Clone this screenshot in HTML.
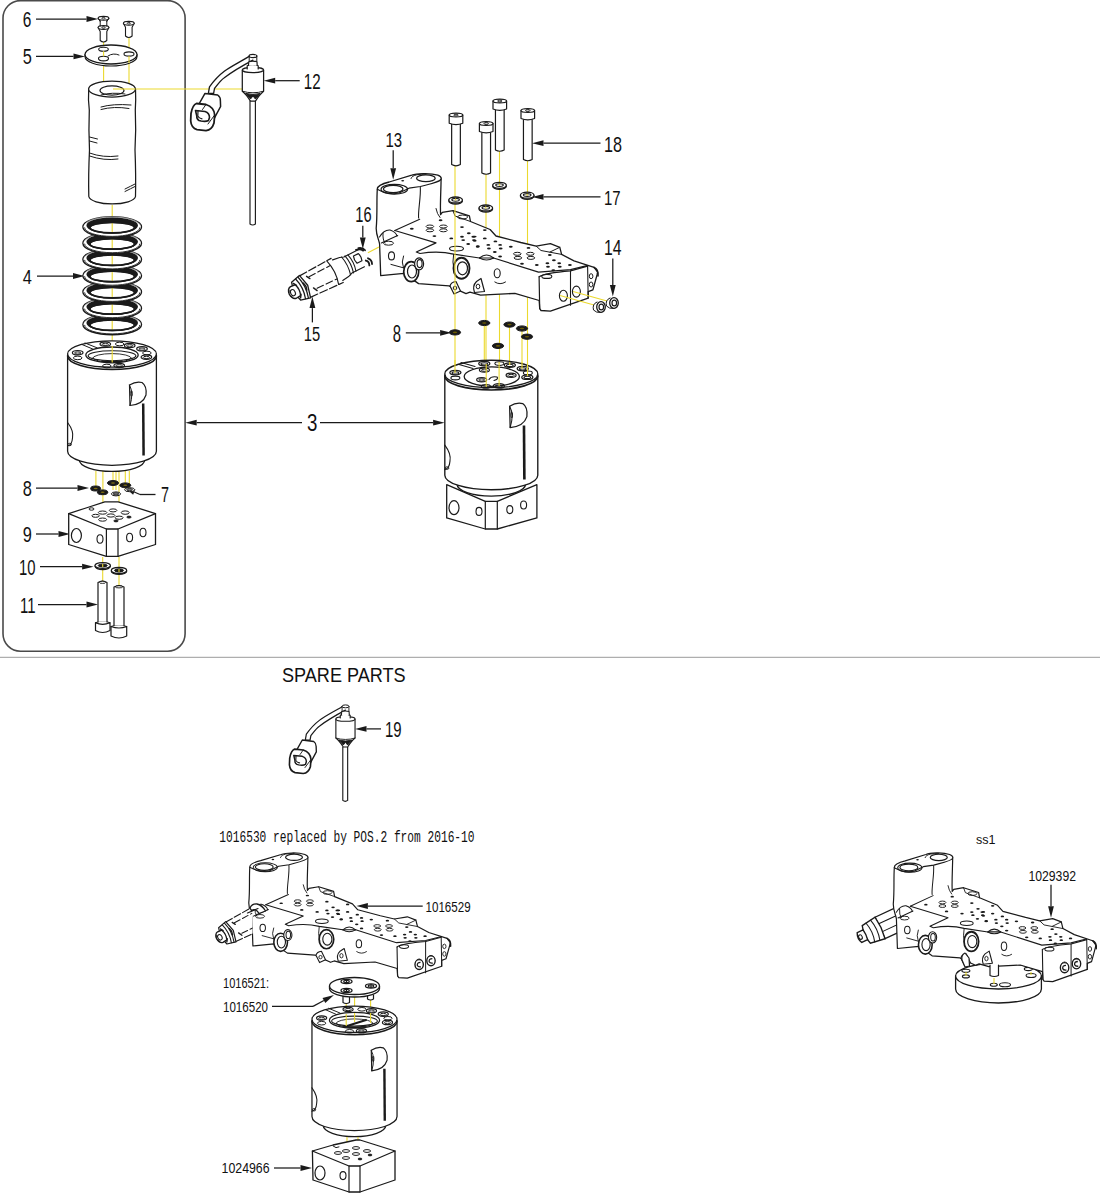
<!DOCTYPE html>
<html><head><meta charset="utf-8"><style>
html,body{margin:0;padding:0;background:#fff;}
body{width:1100px;height:1195px;overflow:hidden;}
svg{display:block;}
text{font-family:"Liberation Sans",sans-serif;fill:#111;}
</style></head><body>
<svg width="1100" height="1195" viewBox="0 0 1100 1195">
<rect x="3" y="0.6" width="182.1" height="650.6" rx="17.5" ry="17.5" fill="none" stroke="#4a4a4a" stroke-width="1.6"/>
<line x1="0" y1="657.3" x2="1100" y2="657.3" stroke="#9a9a9a" stroke-width="1"/>
<text class="n" x="22.7" y="27" font-size="21.43" textLength="8.60" lengthAdjust="spacingAndGlyphs">6</text>
<text class="n" x="22.7" y="64" font-size="22.86" textLength="9.10" lengthAdjust="spacingAndGlyphs">5</text>
<text class="n" x="303.8" y="88.5" font-size="21.43" textLength="16.80" lengthAdjust="spacingAndGlyphs">12</text>
<text class="n" x="385.4" y="146.7" font-size="20.29" textLength="16.60" lengthAdjust="spacingAndGlyphs">13</text>
<text class="n" x="604" y="151.5" font-size="22.14" textLength="18.00" lengthAdjust="spacingAndGlyphs">18</text>
<text class="n" x="604" y="204.7" font-size="20.29" textLength="16.60" lengthAdjust="spacingAndGlyphs">17</text>
<text class="n" x="355.3" y="222" font-size="21.43" textLength="16.30" lengthAdjust="spacingAndGlyphs">16</text>
<text class="n" x="604" y="255" font-size="21.43" textLength="17.50" lengthAdjust="spacingAndGlyphs">14</text>
<text class="n" x="22.7" y="283.6" font-size="20.86" textLength="9.10" lengthAdjust="spacingAndGlyphs">4</text>
<text class="n" x="303.8" y="340.6" font-size="19.71" textLength="16.40" lengthAdjust="spacingAndGlyphs">15</text>
<text class="n" x="392.7" y="341.6" font-size="23.71" textLength="8.30" lengthAdjust="spacingAndGlyphs">8</text>
<text class="n" x="307" y="431" font-size="23.71" textLength="10.40" lengthAdjust="spacingAndGlyphs">3</text>
<text class="n" x="22.7" y="495.5" font-size="22.14" textLength="9.10" lengthAdjust="spacingAndGlyphs">8</text>
<text class="n" x="161" y="502" font-size="21.43" textLength="8.00" lengthAdjust="spacingAndGlyphs">7</text>
<text class="n" x="22.7" y="542" font-size="22.86" textLength="9.10" lengthAdjust="spacingAndGlyphs">9</text>
<text class="n" x="19" y="574.5" font-size="22.14" textLength="16.50" lengthAdjust="spacingAndGlyphs">10</text>
<text class="n" x="20" y="613" font-size="22.86" textLength="15.50" lengthAdjust="spacingAndGlyphs">11</text>
<text class="n" x="282" y="682.2" font-size="20.57" textLength="123.70" lengthAdjust="spacingAndGlyphs">SPARE PARTS</text>
<text class="n" x="385" y="736.6" font-size="22.29" textLength="16.60" lengthAdjust="spacingAndGlyphs">19</text>
<text class="n" x="219.3" y="842.1" font-size="15.60" textLength="255.20" lengthAdjust="spacingAndGlyphs" style="font-family:'Liberation Mono'">1016530 replaced by POS.2 from 2016-10</text>
<text class="n" x="425.5" y="911.6" font-size="15.14" textLength="45.10" lengthAdjust="spacingAndGlyphs">1016529</text>
<text class="n" x="223" y="987.6" font-size="14.29" textLength="46.00" lengthAdjust="spacingAndGlyphs">1016521:</text>
<text class="n" x="223" y="1011.6" font-size="14.29" textLength="45.00" lengthAdjust="spacingAndGlyphs">1016520</text>
<text class="n" x="221.6" y="1173" font-size="14.29" textLength="48.00" lengthAdjust="spacingAndGlyphs">1024966</text>
<text class="n" x="976" y="843.9" font-size="13.00" textLength="19.50" lengthAdjust="spacingAndGlyphs">ss1</text>
<text class="n" x="1028.4" y="881.4" font-size="14.86" textLength="47.60" lengthAdjust="spacingAndGlyphs">1029392</text>
<line x1="36" y1="19" x2="86.50" y2="19.00" stroke="#1a1a1a" stroke-width="1.25"/>
<path d="M98.00,19.00 L86.50,21.90 L86.50,16.10Z" fill="#1a1a1a"/>
<line x1="36" y1="56.4" x2="73.50" y2="56.40" stroke="#1a1a1a" stroke-width="1.25"/>
<path d="M85.00,56.40 L73.50,59.30 L73.50,53.50Z" fill="#1a1a1a"/>
<line x1="299.7" y1="80.7" x2="275.20" y2="80.70" stroke="#1a1a1a" stroke-width="1.25"/>
<path d="M263.70,80.70 L275.20,77.80 L275.20,83.60Z" fill="#1a1a1a"/>
<line x1="393.2" y1="150.3" x2="393.20" y2="168.30" stroke="#1a1a1a" stroke-width="1.25"/>
<path d="M393.20,179.80 L390.30,168.30 L396.10,168.30Z" fill="#1a1a1a"/>
<line x1="600.5" y1="143.2" x2="543.50" y2="143.20" stroke="#1a1a1a" stroke-width="1.25"/>
<path d="M532.00,143.20 L543.50,140.30 L543.50,146.10Z" fill="#1a1a1a"/>
<line x1="600.5" y1="196.9" x2="543.50" y2="196.90" stroke="#1a1a1a" stroke-width="1.25"/>
<path d="M532.00,196.90 L543.50,194.00 L543.50,199.80Z" fill="#1a1a1a"/>
<line x1="362.8" y1="225.7" x2="362.80" y2="237.50" stroke="#1a1a1a" stroke-width="1.25"/>
<path d="M362.80,249.00 L359.90,237.50 L365.70,237.50Z" fill="#1a1a1a"/>
<line x1="612.8" y1="258.5" x2="612.80" y2="285.00" stroke="#1a1a1a" stroke-width="1.25"/>
<path d="M612.80,296.50 L609.90,285.00 L615.70,285.00Z" fill="#1a1a1a"/>
<line x1="37" y1="276" x2="73.00" y2="276.00" stroke="#1a1a1a" stroke-width="1.25"/>
<path d="M84.50,276.00 L73.00,278.90 L73.00,273.10Z" fill="#1a1a1a"/>
<line x1="312.4" y1="322.4" x2="312.40" y2="308.10" stroke="#1a1a1a" stroke-width="1.25"/>
<path d="M312.40,296.60 L315.30,308.10 L309.50,308.10Z" fill="#1a1a1a"/>
<line x1="405.8" y1="332.8" x2="440.10" y2="332.80" stroke="#1a1a1a" stroke-width="1.25"/>
<path d="M451.60,332.80 L440.10,335.70 L440.10,329.90Z" fill="#1a1a1a"/>
<line x1="302" y1="422.7" x2="196.70" y2="422.70" stroke="#1a1a1a" stroke-width="1.25"/>
<path d="M185.20,422.70 L196.70,419.80 L196.70,425.60Z" fill="#1a1a1a"/>
<line x1="320" y1="422.7" x2="433.10" y2="422.70" stroke="#1a1a1a" stroke-width="1.25"/>
<path d="M444.60,422.70 L433.10,425.60 L433.10,419.80Z" fill="#1a1a1a"/>
<line x1="36" y1="488" x2="77.50" y2="488.00" stroke="#1a1a1a" stroke-width="1.25"/>
<path d="M89.00,488.00 L77.50,490.90 L77.50,485.10Z" fill="#1a1a1a"/>
<line x1="155.5" y1="494.5" x2="140" y2="494.5" stroke="#1a1a1a" stroke-width="1.3"/>
<line x1="140" y1="494.5" x2="134.27" y2="492.05" stroke="#1a1a1a" stroke-width="1.25"/>
<path d="M126.00,488.50 L135.41,489.38 L133.13,494.71Z" fill="#1a1a1a"/>
<line x1="36" y1="534" x2="58.50" y2="534.00" stroke="#1a1a1a" stroke-width="1.25"/>
<path d="M70.00,534.00 L58.50,536.90 L58.50,531.10Z" fill="#1a1a1a"/>
<line x1="40" y1="566.7" x2="82.10" y2="566.70" stroke="#1a1a1a" stroke-width="1.25"/>
<path d="M93.60,566.70 L82.10,569.60 L82.10,563.80Z" fill="#1a1a1a"/>
<line x1="38" y1="604.5" x2="86.50" y2="604.50" stroke="#1a1a1a" stroke-width="1.25"/>
<path d="M98.00,604.50 L86.50,607.40 L86.50,601.60Z" fill="#1a1a1a"/>
<line x1="381" y1="728.9" x2="366.50" y2="728.90" stroke="#1a1a1a" stroke-width="1.25"/>
<path d="M355.00,728.90 L366.50,726.00 L366.50,731.80Z" fill="#1a1a1a"/>
<line x1="422.7" y1="906" x2="367.90" y2="906.00" stroke="#1a1a1a" stroke-width="1.25"/>
<path d="M356.40,906.00 L367.90,903.10 L367.90,908.90Z" fill="#1a1a1a"/>
<polyline points="272,1006.4 313,1006.4" fill="none" stroke="#1a1a1a" stroke-width="1.3"/>
<line x1="313" y1="1006.4" x2="323.89" y2="1000.49" stroke="#1a1a1a" stroke-width="1.25"/>
<path d="M334.00,995.00 L325.28,1003.04 L322.51,997.94Z" fill="#1a1a1a"/>
<line x1="274" y1="1168" x2="300.50" y2="1168.00" stroke="#1a1a1a" stroke-width="1.25"/>
<path d="M312.00,1168.00 L300.50,1170.90 L300.50,1165.10Z" fill="#1a1a1a"/>
<line x1="1051" y1="884.8" x2="1051.00" y2="906.20" stroke="#1a1a1a" stroke-width="1.25"/>
<path d="M1051.00,917.70 L1048.10,906.20 L1053.90,906.20Z" fill="#1a1a1a"/>
<line x1="103.6" y1="42" x2="103.6" y2="89" stroke="#EBD92E" stroke-width="1.1"/>
<line x1="129" y1="37" x2="129" y2="89" stroke="#EBD92E" stroke-width="1.1"/>
<line x1="113" y1="89" x2="242" y2="89" stroke="#EBD92E" stroke-width="1.1"/>
<line x1="112.2" y1="205" x2="112.2" y2="350" stroke="#EBD92E" stroke-width="1.1"/>
<line x1="95.9" y1="471" x2="95.9" y2="490" stroke="#EBD92E" stroke-width="1.1"/>
<line x1="102.9" y1="471" x2="102.9" y2="490" stroke="#EBD92E" stroke-width="1.1"/>
<line x1="113" y1="471" x2="113" y2="490" stroke="#EBD92E" stroke-width="1.1"/>
<line x1="116" y1="471" x2="116" y2="490" stroke="#EBD92E" stroke-width="1.1"/>
<line x1="119" y1="471" x2="119" y2="490" stroke="#EBD92E" stroke-width="1.1"/>
<line x1="125.3" y1="471" x2="125.3" y2="490" stroke="#EBD92E" stroke-width="1.1"/>
<line x1="129.3" y1="471" x2="129.3" y2="490" stroke="#EBD92E" stroke-width="1.1"/>
<line x1="102.9" y1="490" x2="102.9" y2="514" stroke="#EBD92E" stroke-width="1.1"/>
<line x1="119" y1="490" x2="119" y2="519" stroke="#EBD92E" stroke-width="1.1"/>
<line x1="102.7" y1="557" x2="102.7" y2="581" stroke="#EBD92E" stroke-width="1.1"/>
<line x1="119" y1="557" x2="119" y2="586" stroke="#EBD92E" stroke-width="1.1"/>
<path d="M98.1,27.5 L100.2,31.5 L100.2,40.5 Q103.5,43.5 106.8,40.5 L106.8,31.5 L108.9,27.5 Z" fill="#fff" stroke="#1a1a1a" stroke-width="1.1" stroke-linejoin="round" stroke-linecap="round" />
<ellipse cx="103.5" cy="27.5" rx="5.4" ry="1.9" fill="#fff" stroke="#1a1a1a" stroke-width="1.1" />
<ellipse cx="103.5" cy="27.5" rx="1.6" ry="0.8" fill="none" stroke="#1a1a1a" stroke-width="0.9" />
<path d="M100.2,20.5 L100.2,26 M106.8,20.5 L106.8,26" fill="none" stroke="#1a1a1a" stroke-width="1.0" stroke-linejoin="round" stroke-linecap="round" />
<ellipse cx="103.5" cy="18.3" rx="5.4" ry="1.9" fill="#fff" stroke="#1a1a1a" stroke-width="1.1" />
<ellipse cx="103.5" cy="18.3" rx="1.6" ry="0.8" fill="none" stroke="#1a1a1a" stroke-width="0.9" />
<path d="M98.1,18.3 L100.2,21.5 M108.9,18.3 L106.8,21.5" fill="none" stroke="#1a1a1a" stroke-width="1.0" stroke-linejoin="round" stroke-linecap="round" />
<path d="M123.4,23.3 L125.50000000000001,27.3 L125.50000000000001,36.0 Q128.8,39.0 132.10000000000002,36.0 L132.10000000000002,27.3 L134.20000000000002,23.3 Z" fill="#fff" stroke="#1a1a1a" stroke-width="1.1" stroke-linejoin="round" stroke-linecap="round" />
<ellipse cx="128.8" cy="23.3" rx="5.4" ry="1.9" fill="#fff" stroke="#1a1a1a" stroke-width="1.1" />
<ellipse cx="128.8" cy="23.3" rx="1.6" ry="0.8" fill="none" stroke="#1a1a1a" stroke-width="0.9" />
<path d="M85,54.5 L85,56.5 A26,9.5 0 0 0 137,56.5 L137,54.5" fill="#fff" stroke="#1a1a1a" stroke-width="1.2" stroke-linejoin="round" stroke-linecap="round" />
<ellipse cx="111" cy="54.5" rx="26" ry="9.5" fill="#fff" stroke="#1a1a1a" stroke-width="1.3" />
<ellipse cx="103.5" cy="49.2" rx="4.8" ry="2.0" fill="none" stroke="#1a1a1a" stroke-width="1.1" />
<ellipse cx="129" cy="54" rx="5" ry="2.1" fill="none" stroke="#1a1a1a" stroke-width="1.1" />
<ellipse cx="103.5" cy="58.6" rx="5" ry="2.3" fill="none" stroke="#1a1a1a" stroke-width="1.1" />
<path d="M108,56 Q113,52.5 119,55" fill="none" stroke="#1a1a1a" stroke-width="1.0" stroke-linejoin="round" stroke-linecap="round" />
<line x1="103.6" y1="51.2" x2="103.6" y2="56.3" stroke="#EBD92E" stroke-width="1.1"/>
<line x1="129" y1="56.1" x2="129" y2="63" stroke="#EBD92E" stroke-width="1.1"/>
<path d="M88.7,89 Q88,100 89.3,110 Q88.5,130 89.5,150 Q88.3,175 88.8,196.5 A23.4,8 0 0 0 135.5,196.5 Q136,175 135,150 Q136.2,130 135.3,110 Q136,100 135.5,89" fill="#fff" stroke="#1a1a1a" stroke-width="1.25" stroke-linejoin="round" stroke-linecap="round" />
<ellipse cx="112" cy="89" rx="23.4" ry="8" fill="#fff" stroke="#1a1a1a" stroke-width="1.25" />
<ellipse cx="112" cy="90.5" rx="12" ry="4.6" fill="none" stroke="#1a1a1a" stroke-width="1.2" />
<path d="M101,95 Q112,92 125,94" fill="none" stroke="#1a1a1a" stroke-width="1.0" stroke-linejoin="round" stroke-linecap="round" />
<line x1="113" y1="89" x2="135.5" y2="89" stroke="#EBD92E" stroke-width="1.1"/>
<path d="M101,107 Q113,103.5 131,105 M101,109.5 Q114,106 129,108.5" fill="none" stroke="#1a1a1a" stroke-width="1.0" stroke-linejoin="round" stroke-linecap="round" />
<path d="M89.5,137 L97.5,139 M89.5,141 L97,143" fill="none" stroke="#1a1a1a" stroke-width="1.0" stroke-linejoin="round" stroke-linecap="round" />
<path d="M89.5,153 Q103,158 118,156 M89.5,156 Q104,161 118,159" fill="none" stroke="#1a1a1a" stroke-width="1.0" stroke-linejoin="round" stroke-linecap="round" />
<path d="M125,189 Q131,186 135,184 M125,191.5 Q131,188.5 135,186.5" fill="none" stroke="#1a1a1a" stroke-width="1.0" stroke-linejoin="round" stroke-linecap="round" />
<path d="M82.9,324.5 a29.3,10.3 0 1 0 58.6,0 a29.3,10.3 0 1 0 -58.6,0 Z M89.9,325.1 a22.3,5.3 0 1 0 44.6,0 a22.3,5.3 0 1 0 -44.6,0 Z" fill="#fff" fill-rule="evenodd" stroke="#1a1a1a" stroke-width="1.4"/>
<path d="M86.4,323.0 a25.8,8.2 0 1 0 51.6,0 a25.8,8.2 0 1 0 -51.6,0 Z M89.9,325.1 a22.3,5.3 0 1 0 44.6,0 a22.3,5.3 0 1 0 -44.6,0 Z" fill="#1a1a1a" fill-rule="evenodd"/>
<ellipse cx="112.2" cy="325.1" rx="22.3" ry="5.3" fill="none" stroke="#1a1a1a" stroke-width="1.7" />
<ellipse cx="112.2" cy="323.9" rx="28.2" ry="9.4" fill="none" stroke="#fff" stroke-width="0.6" />
<path d="M84.6,325.3 A27.6,8.6 0 0 0 139.8,325.3" fill="none" stroke="#1a1a1a" stroke-width="0.9" stroke-linejoin="round" stroke-linecap="round" />
<path d="M82.9,308.3 a29.3,10.3 0 1 0 58.6,0 a29.3,10.3 0 1 0 -58.6,0 Z M89.9,308.90000000000003 a22.3,5.3 0 1 0 44.6,0 a22.3,5.3 0 1 0 -44.6,0 Z" fill="#fff" fill-rule="evenodd" stroke="#1a1a1a" stroke-width="1.4"/>
<path d="M86.4,306.8 a25.8,8.2 0 1 0 51.6,0 a25.8,8.2 0 1 0 -51.6,0 Z M89.9,308.90000000000003 a22.3,5.3 0 1 0 44.6,0 a22.3,5.3 0 1 0 -44.6,0 Z" fill="#1a1a1a" fill-rule="evenodd"/>
<ellipse cx="112.2" cy="308.90000000000003" rx="22.3" ry="5.3" fill="none" stroke="#1a1a1a" stroke-width="1.7" />
<ellipse cx="112.2" cy="307.7" rx="28.2" ry="9.4" fill="none" stroke="#fff" stroke-width="0.6" />
<path d="M84.6,309.1 A27.6,8.6 0 0 0 139.8,309.1" fill="none" stroke="#1a1a1a" stroke-width="0.9" stroke-linejoin="round" stroke-linecap="round" />
<path d="M82.9,292 a29.3,10.3 0 1 0 58.6,0 a29.3,10.3 0 1 0 -58.6,0 Z M89.9,292.6 a22.3,5.3 0 1 0 44.6,0 a22.3,5.3 0 1 0 -44.6,0 Z" fill="#fff" fill-rule="evenodd" stroke="#1a1a1a" stroke-width="1.4"/>
<path d="M86.4,290.5 a25.8,8.2 0 1 0 51.6,0 a25.8,8.2 0 1 0 -51.6,0 Z M89.9,292.6 a22.3,5.3 0 1 0 44.6,0 a22.3,5.3 0 1 0 -44.6,0 Z" fill="#1a1a1a" fill-rule="evenodd"/>
<ellipse cx="112.2" cy="292.6" rx="22.3" ry="5.3" fill="none" stroke="#1a1a1a" stroke-width="1.7" />
<ellipse cx="112.2" cy="291.4" rx="28.2" ry="9.4" fill="none" stroke="#fff" stroke-width="0.6" />
<path d="M84.6,292.8 A27.6,8.6 0 0 0 139.8,292.8" fill="none" stroke="#1a1a1a" stroke-width="0.9" stroke-linejoin="round" stroke-linecap="round" />
<path d="M82.9,275.8 a29.3,10.3 0 1 0 58.6,0 a29.3,10.3 0 1 0 -58.6,0 Z M89.9,276.40000000000003 a22.3,5.3 0 1 0 44.6,0 a22.3,5.3 0 1 0 -44.6,0 Z" fill="#fff" fill-rule="evenodd" stroke="#1a1a1a" stroke-width="1.4"/>
<path d="M86.4,274.3 a25.8,8.2 0 1 0 51.6,0 a25.8,8.2 0 1 0 -51.6,0 Z M89.9,276.40000000000003 a22.3,5.3 0 1 0 44.6,0 a22.3,5.3 0 1 0 -44.6,0 Z" fill="#1a1a1a" fill-rule="evenodd"/>
<ellipse cx="112.2" cy="276.40000000000003" rx="22.3" ry="5.3" fill="none" stroke="#1a1a1a" stroke-width="1.7" />
<ellipse cx="112.2" cy="275.2" rx="28.2" ry="9.4" fill="none" stroke="#fff" stroke-width="0.6" />
<path d="M84.6,276.6 A27.6,8.6 0 0 0 139.8,276.6" fill="none" stroke="#1a1a1a" stroke-width="0.9" stroke-linejoin="round" stroke-linecap="round" />
<path d="M82.9,259.5 a29.3,10.3 0 1 0 58.6,0 a29.3,10.3 0 1 0 -58.6,0 Z M89.9,260.1 a22.3,5.3 0 1 0 44.6,0 a22.3,5.3 0 1 0 -44.6,0 Z" fill="#fff" fill-rule="evenodd" stroke="#1a1a1a" stroke-width="1.4"/>
<path d="M86.4,258.0 a25.8,8.2 0 1 0 51.6,0 a25.8,8.2 0 1 0 -51.6,0 Z M89.9,260.1 a22.3,5.3 0 1 0 44.6,0 a22.3,5.3 0 1 0 -44.6,0 Z" fill="#1a1a1a" fill-rule="evenodd"/>
<ellipse cx="112.2" cy="260.1" rx="22.3" ry="5.3" fill="none" stroke="#1a1a1a" stroke-width="1.7" />
<ellipse cx="112.2" cy="258.9" rx="28.2" ry="9.4" fill="none" stroke="#fff" stroke-width="0.6" />
<path d="M84.6,260.3 A27.6,8.6 0 0 0 139.8,260.3" fill="none" stroke="#1a1a1a" stroke-width="0.9" stroke-linejoin="round" stroke-linecap="round" />
<path d="M82.9,243.3 a29.3,10.3 0 1 0 58.6,0 a29.3,10.3 0 1 0 -58.6,0 Z M89.9,243.9 a22.3,5.3 0 1 0 44.6,0 a22.3,5.3 0 1 0 -44.6,0 Z" fill="#fff" fill-rule="evenodd" stroke="#1a1a1a" stroke-width="1.4"/>
<path d="M86.4,241.8 a25.8,8.2 0 1 0 51.6,0 a25.8,8.2 0 1 0 -51.6,0 Z M89.9,243.9 a22.3,5.3 0 1 0 44.6,0 a22.3,5.3 0 1 0 -44.6,0 Z" fill="#1a1a1a" fill-rule="evenodd"/>
<ellipse cx="112.2" cy="243.9" rx="22.3" ry="5.3" fill="none" stroke="#1a1a1a" stroke-width="1.7" />
<ellipse cx="112.2" cy="242.70000000000002" rx="28.2" ry="9.4" fill="none" stroke="#fff" stroke-width="0.6" />
<path d="M84.6,244.10000000000002 A27.6,8.6 0 0 0 139.8,244.10000000000002" fill="none" stroke="#1a1a1a" stroke-width="0.9" stroke-linejoin="round" stroke-linecap="round" />
<path d="M82.9,227 a29.3,10.3 0 1 0 58.6,0 a29.3,10.3 0 1 0 -58.6,0 Z M89.9,227.6 a22.3,5.3 0 1 0 44.6,0 a22.3,5.3 0 1 0 -44.6,0 Z" fill="#fff" fill-rule="evenodd" stroke="#1a1a1a" stroke-width="1.4"/>
<path d="M86.4,225.5 a25.8,8.2 0 1 0 51.6,0 a25.8,8.2 0 1 0 -51.6,0 Z M89.9,227.6 a22.3,5.3 0 1 0 44.6,0 a22.3,5.3 0 1 0 -44.6,0 Z" fill="#1a1a1a" fill-rule="evenodd"/>
<ellipse cx="112.2" cy="227.6" rx="22.3" ry="5.3" fill="none" stroke="#1a1a1a" stroke-width="1.7" />
<ellipse cx="112.2" cy="226.4" rx="28.2" ry="9.4" fill="none" stroke="#fff" stroke-width="0.6" />
<path d="M84.6,227.8 A27.6,8.6 0 0 0 139.8,227.8" fill="none" stroke="#1a1a1a" stroke-width="0.9" stroke-linejoin="round" stroke-linecap="round" />
<defs><g id="hbody"><path d="M-32.7,105 A32.7,11.4 0 0 0 32.7,105 L32.7,100 L-32.7,100 Z" fill="#fff" stroke="#1a1a1a" stroke-width="1.3" stroke-linejoin="round" stroke-linecap="round"/>
<path d="M-44.4,0 L-44.4,96.3 A44.4,14 0 0 0 44.4,96.3 L44.4,0 Z" fill="#fff" stroke="#1a1a1a" stroke-width="1.3" stroke-linejoin="round" stroke-linecap="round"/>
<path d="M-44.4,1 A44.4,13.4 0 0 0 44.4,1" fill="none" stroke="#1a1a1a" stroke-width="1.6" stroke-linejoin="round" stroke-linecap="round"/>
<ellipse cx="0" cy="-1" rx="44.4" ry="13.2" fill="#fff" stroke="#1a1a1a" stroke-width="1.3"/>
<path d="M17.5,30 Q24,26 30,27.5 Q35,31 34,40 Q31,49.5 18,50.5 Z" fill="#fff" stroke="#1a1a1a" stroke-width="1.2" stroke-linejoin="round" stroke-linecap="round"/>
<path d="M17.5,30 Q22,38 18,50.5" fill="none" stroke="#1a1a1a" stroke-width="1.0" stroke-linejoin="round" stroke-linecap="round"/>
<ellipse cx="19.5" cy="38.5" rx="0.8" ry="2.8" fill="none" stroke="#1a1a1a" stroke-width="0.9"/>
<path d="M31.2,48.5 L31.6,100.5" stroke="#1a1a1a" stroke-width="2.5" fill="none"/>
<path d="M-44.4,67.5 Q-38,76 -39.5,83 Q-40,90 -44.4,91" fill="none" stroke="#1a1a1a" stroke-width="1.1" stroke-linejoin="round" stroke-linecap="round"/>
<ellipse cx="-42.3" cy="89.5" rx="1.8" ry="1.2" fill="none" stroke="#1a1a1a" stroke-width="0.9"/></g></defs>
<defs><g id="hrim"><ellipse cx="-34.3" cy="-2.3" rx="5.3" ry="2.2" fill="none" stroke="#1a1a1a" stroke-width="1.2"/>
<ellipse cx="-34.3" cy="-1.9999999999999998" rx="3.2" ry="1.1" fill="none" stroke="#1a1a1a" stroke-width="1.0"/>
<ellipse cx="-34.3" cy="2.9" rx="4.3" ry="1.8" fill="none" stroke="#1a1a1a" stroke-width="1.0"/>
<ellipse cx="-6.7" cy="-11" rx="5.3" ry="2.2" fill="none" stroke="#1a1a1a" stroke-width="1.2"/>
<ellipse cx="-6.7" cy="-10.7" rx="3.2" ry="1.1" fill="none" stroke="#1a1a1a" stroke-width="1.0"/>
<ellipse cx="7.7" cy="-11" rx="4.3" ry="1.8" fill="none" stroke="#1a1a1a" stroke-width="1.0"/>
<ellipse cx="17.7" cy="-9.5" rx="5.3" ry="2.2" fill="none" stroke="#1a1a1a" stroke-width="1.2"/>
<ellipse cx="17.7" cy="-9.2" rx="3.2" ry="1.1" fill="none" stroke="#1a1a1a" stroke-width="1.0"/>
<ellipse cx="30" cy="-6.2" rx="5.3" ry="2.2" fill="none" stroke="#1a1a1a" stroke-width="1.2"/>
<ellipse cx="30" cy="-5.9" rx="3.2" ry="1.1" fill="none" stroke="#1a1a1a" stroke-width="1.0"/>
<ellipse cx="34.9" cy="-2" rx="4.3" ry="1.8" fill="none" stroke="#1a1a1a" stroke-width="1.0"/>
<ellipse cx="34.4" cy="2.1" rx="5.3" ry="2.2" fill="none" stroke="#1a1a1a" stroke-width="1.2"/>
<ellipse cx="34.4" cy="2.4" rx="3.2" ry="1.1" fill="none" stroke="#1a1a1a" stroke-width="1.0"/>
<ellipse cx="-5.2" cy="11" rx="4.3" ry="1.8" fill="none" stroke="#1a1a1a" stroke-width="1.0"/>
<ellipse cx="7.2" cy="10.5" rx="5.3" ry="2.2" fill="none" stroke="#1a1a1a" stroke-width="1.2"/>
<ellipse cx="7.2" cy="10.8" rx="3.2" ry="1.1" fill="none" stroke="#1a1a1a" stroke-width="1.0"/></g></defs>
<defs><g id="htopA"><ellipse cx="0" cy="-0.1" rx="26.2" ry="7.9" fill="none" stroke="#1a1a1a" stroke-width="1.3"/>
<ellipse cx="0" cy="0.8" rx="23.9" ry="5.0" fill="none" stroke="#1a1a1a" stroke-width="1.1"/>
<path d="M-19,3 A19,4.2 0 0 0 19,3" fill="none" stroke="#1a1a1a" stroke-width="1.0" stroke-linejoin="round" stroke-linecap="round"/>
<path d="M-19.5,3.2 A19.5,4.6 0 0 1 19.5,3.2" fill="none" stroke="#1a1a1a" stroke-width="0.9" stroke-linejoin="round" stroke-linecap="round"/>
<path d="M-10,6 A12,2 0 0 0 10,6" fill="none" stroke="#1a1a1a" stroke-width="1.6" stroke-linejoin="round" stroke-linecap="round"/>
<path d="M-30,-10.5 L-18.6,-5.7 M-27,-12 L-15,-7.2" fill="none" stroke="#1a1a1a" stroke-width="1.0" stroke-linejoin="round" stroke-linecap="round"/></g></defs>
<g transform="translate(112,355)"><use href="#hbody"/><use href="#hrim"/><use href="#htopA"/></g>
<line x1="112.2" y1="346" x2="112.2" y2="362.5" stroke="#EBD92E" stroke-width="1.1"/>
<ellipse cx="95.6" cy="488.5" rx="5" ry="2.5" fill="#1a1a1a" stroke="#1a1a1a" stroke-width="1.0" />
<ellipse cx="95.6" cy="488.5" rx="2.0" ry="0.7" fill="#7a6a10" stroke="none" stroke-width="0" />
<ellipse cx="102.6" cy="492.3" rx="5.2" ry="2.4" fill="#1a1a1a" stroke="#1a1a1a" stroke-width="1.0" />
<ellipse cx="102.6" cy="492.3" rx="2.0" ry="0.7" fill="#7a6a10" stroke="none" stroke-width="0" />
<ellipse cx="113" cy="483" rx="5.5" ry="2.5" fill="#1a1a1a" stroke="#1a1a1a" stroke-width="1.0" />
<ellipse cx="113" cy="483" rx="2.0" ry="0.7" fill="#7a6a10" stroke="none" stroke-width="0" />
<ellipse cx="125.3" cy="485.3" rx="5.5" ry="2.4" fill="#1a1a1a" stroke="#1a1a1a" stroke-width="1.0" />
<ellipse cx="125.3" cy="485.3" rx="2.0" ry="0.7" fill="#7a6a10" stroke="none" stroke-width="0" />
<ellipse cx="116" cy="493.9" rx="4.6" ry="2" fill="#fff" stroke="#1a1a1a" stroke-width="1.0" />
<ellipse cx="116" cy="493.9" rx="2.8" ry="1.1" fill="#888" stroke="#1a1a1a" stroke-width="0.9" />
<ellipse cx="129.6" cy="489.7" rx="5" ry="2" fill="#fff" stroke="#1a1a1a" stroke-width="1.0" />
<ellipse cx="129.6" cy="489.7" rx="2.8" ry="1.1" fill="#888" stroke="#1a1a1a" stroke-width="0.9" />
<defs><g id="blk"><path d="M68.7,513.6 L86,508 L104.8,501.8 L118.2,501.8 L155.5,513.6 L155.5,544.5 L118,556.4 L106.4,556.4 L68.7,544.5 Z" fill="#fff" stroke="#1a1a1a" stroke-width="1.3" stroke-linejoin="round" stroke-linecap="round"/>
<path d="M68.7,513.6 L106.4,529 L118,529 L155.5,513.6" fill="none" stroke="#1a1a1a" stroke-width="1.3" stroke-linejoin="round" stroke-linecap="round"/>
<path d="M106.4,529 L106.4,556.4 M118,529 L118,556.4" fill="none" stroke="#1a1a1a" stroke-width="1.2" stroke-linejoin="round" stroke-linecap="round"/>
<ellipse cx="76.4" cy="535.5" rx="5" ry="7" fill="none" stroke="#1a1a1a" stroke-width="1.2"/>
<ellipse cx="100" cy="539" rx="3" ry="4.2" fill="none" stroke="#1a1a1a" stroke-width="1.1"/>
<ellipse cx="129.6" cy="537.5" rx="3" ry="4.2" fill="none" stroke="#1a1a1a" stroke-width="1.1"/>
<ellipse cx="143" cy="532.5" rx="3" ry="4.2" fill="none" stroke="#1a1a1a" stroke-width="1.1"/></g></defs>
<use href="#blk"/>
<ellipse cx="91.5" cy="509" rx="2.5" ry="1.2" fill="none" stroke="#1a1a1a" stroke-width="1.0" />
<ellipse cx="113.1" cy="510.4" rx="3.8" ry="1.5" fill="none" stroke="#1a1a1a" stroke-width="1.0" />
<ellipse cx="125.2" cy="512.6" rx="4" ry="1.7" fill="none" stroke="#1a1a1a" stroke-width="1.0" />
<ellipse cx="102.6" cy="512.6" rx="4.3" ry="1.6" fill="none" stroke="#1a1a1a" stroke-width="1.0" />
<ellipse cx="95.6" cy="515.8" rx="3.7" ry="1.5" fill="none" stroke="#1a1a1a" stroke-width="1.0" />
<ellipse cx="110.9" cy="515.5" rx="4" ry="1.6" fill="none" stroke="#1a1a1a" stroke-width="1.0" />
<ellipse cx="119.1" cy="517.7" rx="4" ry="1.6" fill="none" stroke="#1a1a1a" stroke-width="1.0" />
<ellipse cx="102.6" cy="519.6" rx="4" ry="1.6" fill="none" stroke="#1a1a1a" stroke-width="1.0" />
<ellipse cx="129" cy="517.1" rx="2.2" ry="1" fill="#1a1a1a" stroke="#1a1a1a" stroke-width="0.8" />
<ellipse cx="116" cy="520.9" rx="2.2" ry="1" fill="#1a1a1a" stroke="#1a1a1a" stroke-width="0.8" />
<ellipse cx="102.7" cy="566.3" rx="7.7" ry="3.3" fill="#fff" stroke="#1a1a1a" stroke-width="1.2" />
<ellipse cx="102.7" cy="565.5" rx="7.7" ry="3.0" fill="#fff" stroke="#1a1a1a" stroke-width="1.2" />
<ellipse cx="102.7" cy="565.5" rx="4.5" ry="1.6" fill="#1a1a1a" stroke="#1a1a1a" stroke-width="1.0" />
<line x1="102.7" y1="564.0" x2="102.7" y2="567.0" stroke="#EBD92E" stroke-width="1.1"/>
<ellipse cx="119" cy="571.1999999999999" rx="7.7" ry="3.3" fill="#fff" stroke="#1a1a1a" stroke-width="1.2" />
<ellipse cx="119" cy="570.4" rx="7.7" ry="3.0" fill="#fff" stroke="#1a1a1a" stroke-width="1.2" />
<ellipse cx="119" cy="570.4" rx="4.5" ry="1.6" fill="#1a1a1a" stroke="#1a1a1a" stroke-width="1.0" />
<line x1="119" y1="568.9" x2="119" y2="571.9" stroke="#EBD92E" stroke-width="1.1"/>
<path d="M95.5,622.8 L95.5,630.5 Q102.5,634.5 110,630.5 L110,622.8 Q102.5,625.8 95.5,622.8 Z" fill="#fff" stroke="#1a1a1a" stroke-width="1.2" stroke-linejoin="round" stroke-linecap="round" />
<path d="M95.5,622.8 Q102.5,619.8 110,622.8" fill="none" stroke="#1a1a1a" stroke-width="1.1" stroke-linejoin="round" stroke-linecap="round" />
<path d="M98,621.8 L98,582.5 Q102.5,579.5 107,582.5 L107,621.8" fill="#fff" stroke="#1a1a1a" stroke-width="1.2" stroke-linejoin="round" stroke-linecap="round" />
<ellipse cx="102.5" cy="582.3" rx="3.3" ry="1.1" fill="none" stroke="#1a1a1a" stroke-width="0.9" />
<path d="M111,626.5 L111,636 Q119.0,640 126.7,636 L126.7,626.5 Q119.0,629.5 111,626.5 Z" fill="#fff" stroke="#1a1a1a" stroke-width="1.2" stroke-linejoin="round" stroke-linecap="round" />
<path d="M111,626.5 Q119.0,623.5 126.7,626.5" fill="none" stroke="#1a1a1a" stroke-width="1.1" stroke-linejoin="round" stroke-linecap="round" />
<path d="M114,625.5 L114,587.0 Q119.0,584.0 124,587.0 L124,625.5" fill="#fff" stroke="#1a1a1a" stroke-width="1.2" stroke-linejoin="round" stroke-linecap="round" />
<ellipse cx="119.0" cy="586.8" rx="3.8" ry="1.1" fill="none" stroke="#1a1a1a" stroke-width="0.9" />
<defs><g id="sens"><path d="M249.6,56.1 C240,62 230,67 224.3,71.3 C218,76 213,82 209.5,86.8 L208.3,93.5 L213.6,93.5 L214.5,88.5 C218,84 221,80 224.3,77.8 C232,72 242,66 252.9,60.2" fill="#fff" stroke="#1a1a1a" stroke-width="1.35" stroke-linejoin="round" stroke-linecap="round"/>
<path d="M205,93.4 L217.7,95 Q220.6,97 220.4,101 L220.6,106.5 L214.5,117.9 L209.5,128.6 L196,122 L199,104 Z" fill="#fff" stroke="#1a1a1a" stroke-width="1.5" stroke-linejoin="round" stroke-linecap="round"/>
<path d="M196.5,103.5 L206,104.5 Q214,107 214.7,115 L214,123 Q212,129.8 206,130.6 L197,129.6 Q191.3,128 190.7,121 L191,113.5 Q192.5,105 196.5,103.5 Z" fill="#fff" stroke="#1a1a1a" stroke-width="1.8" stroke-linejoin="round" stroke-linecap="round"/>
<path d="M195.5,110.5 L205,111.5 Q209.5,113 209.5,117.5 L208.5,120.5 Q206,122 201,121 L199,120.5 Q196.5,119 196.8,116 Z" fill="none" stroke="#1a1a1a" stroke-width="1.6" stroke-linejoin="round" stroke-linecap="round"/>
<path d="M198,111 L197.8,116 Q199,118.5 202,118.8" fill="none" stroke="#1a1a1a" stroke-width="1.2" stroke-linejoin="round" stroke-linecap="round"/>
<path d="M206,104.5 L202.5,109.5 M214.7,115 L208,124" fill="none" stroke="#1a1a1a" stroke-width="1.0" stroke-linejoin="round" stroke-linecap="round"/>
<path d="M242.3,70 L242.3,91.2 Q246,94 250.5,101.1 L255.4,101.1 Q260,94 263.6,91.2 L263.6,70 Z" fill="#fff" stroke="#1a1a1a" stroke-width="1.25" stroke-linejoin="round" stroke-linecap="round"/>
<ellipse cx="252.95" cy="70" rx="10.65" ry="2.6" fill="#fff" stroke="#1a1a1a" stroke-width="1.2"/>
<path d="M242.3,91.2 Q253,94.5 263.6,91.2" fill="none" stroke="#1a1a1a" stroke-width="1.0" stroke-linejoin="round" stroke-linecap="round"/>
<path d="M246,93.5 L250.5,99 L253,96 L255.4,99 L260,93.5 Q253,95.5 246,93.5 Z" fill="#1a1a1a" stroke="#1a1a1a" stroke-width="1.0" stroke-linejoin="round" stroke-linecap="round"/>
<path d="M247.2,69 L247.2,65.8 Q252.7,63.5 258.2,65.8 L258.2,69" fill="#fff" stroke="#1a1a1a" stroke-width="1.2" stroke-linejoin="round" stroke-linecap="round"/>
<path d="M248.4,65.5 L248.8,61.8 Q252.7,60.5 257,61.8 L257.2,65.5" fill="#fff" stroke="#1a1a1a" stroke-width="1.2" stroke-linejoin="round" stroke-linecap="round"/>
<ellipse cx="253" cy="56" rx="3.9" ry="1.6" fill="#fff" stroke="#1a1a1a" stroke-width="1.1"/>
<path d="M249.2,56 L249.2,61 M256.8,56 L256.8,61" fill="none" stroke="#1a1a1a" stroke-width="1.0" stroke-linejoin="round" stroke-linecap="round"/></g></defs>
<path d="M250,101.1 L250,224 Q252.7,226 255.4,224 L255.4,101.1" fill="#fff" stroke="#1a1a1a" stroke-width="1.15" stroke-linejoin="round" stroke-linecap="round" />
<use href="#sens"/>
<g transform="translate(345.5,718.6) scale(0.9) translate(-253,-69.6)"><path d="M250,101.1 L250,160.5 Q252.7,162.5 255.4,160.5 L255.4,101.1" fill="#fff" stroke="#1a1a1a" stroke-width="1.25"/><use href="#sens"/></g>
<defs><g id="man"><path d="M377.3,189.3 C377,186 383,183.5 389.2,182 L411.8,175.2 C416,173.5 430,172.5 437.8,175.2 C441,176.5 441.5,178 441.1,179 C441,190 440,205 440.6,214.7 L442.3,212.4 L453,210.7 L469.4,215.8 L470.5,221.5 L490.1,229.5 L496,236 L520.8,242.5 L536.2,246.1 L550.4,243.7 L559.8,247.3 L561.6,254.4 L574,260.9 L594.1,267.4 L597.6,272.1 L597,275 L592.9,289.8 L588.2,291.6 L588.2,298.1 L550.4,311.1 L541,310.5 L539.7,308.7 L539.2,300.5 L514.9,293.4 L480.6,295.1 L470,292.2 L466,293.7 L449,285.8 L418.6,283.6 L403.9,273.4 L380.7,275.7 L379.6,244 C379,240 376,235 376.2,228 C377.5,215 376.5,200 377.3,189.3 Z" fill="#fff" stroke="#1a1a1a" stroke-width="1.3" stroke-linejoin="round" stroke-linecap="round"/>
<path d="M377.3,189.3 C385,193.5 393,194.5 399,193 L409,188.2 L420.3,186.5 C432,183.5 440,182 441.1,179" fill="none" stroke="#1a1a1a" stroke-width="1.2" stroke-linejoin="round" stroke-linecap="round"/>
<ellipse cx="394.3" cy="189.3" rx="13.3" ry="4.9" fill="none" stroke="#1a1a1a" stroke-width="1.1"/>
<ellipse cx="393.2" cy="189" rx="9.8" ry="3.6" fill="none" stroke="#1a1a1a" stroke-width="1.3"/>
<ellipse cx="425.9" cy="178.3" rx="9.3" ry="3.4" fill="none" stroke="#1a1a1a" stroke-width="1.3"/>
<path d="M411,178.5 C412,174.5 420,174 426,174.2" fill="none" stroke="#1a1a1a" stroke-width="1.0" stroke-linejoin="round" stroke-linecap="round"/>
<ellipse cx="402.7" cy="180.8" rx="1.5" ry="0.8" fill="#1a1a1a"/>
<path d="M420.3,187 C421,197 418,210 418.6,218" fill="none" stroke="#1a1a1a" stroke-width="1.1" stroke-linejoin="round" stroke-linecap="round"/>
<path d="M436,208.5 Q437,214 440,217.5" fill="none" stroke="#1a1a1a" stroke-width="1.0" stroke-linejoin="round" stroke-linecap="round"/>
<path d="M394.8,230.5 L419.7,219.2" fill="none" stroke="#1a1a1a" stroke-width="1.1" stroke-linejoin="round" stroke-linecap="round"/>
<path d="M394.8,230.5 L436,242.9 L416.3,252 L420,253.5 C435,251 445,252 453.6,254.2 L479.5,258 L493.6,258 L538.5,272.1 L570.5,269.7 L587,265.6" fill="none" stroke="#1a1a1a" stroke-width="1.2" stroke-linejoin="round" stroke-linecap="round"/>
<path d="M381.3,243 L397.7,235.6" fill="none" stroke="#1a1a1a" stroke-width="1.1" stroke-linejoin="round" stroke-linecap="round"/>
<path d="M379.5,237 Q384,229.5 390,230 Q396,232 397,236" fill="none" stroke="#1a1a1a" stroke-width="1.1" stroke-linejoin="round" stroke-linecap="round"/>
<path d="M383,233 Q382.5,240 385,243" fill="none" stroke="#1a1a1a" stroke-width="1.0" stroke-linejoin="round" stroke-linecap="round"/>
<ellipse cx="388.5" cy="243.2" rx="5" ry="2" fill="none" stroke="#1a1a1a" stroke-width="1.0"/>
<ellipse cx="462.6" cy="217" rx="5" ry="2" fill="none" stroke="#1a1a1a" stroke-width="1.0"/>
<path d="M453,210.7 L455,216 L470.5,221.5" fill="none" stroke="#1a1a1a" stroke-width="1.0" stroke-linejoin="round" stroke-linecap="round"/>
<path d="M536.2,246.1 L541,250.5 L561.6,254.4" fill="none" stroke="#1a1a1a" stroke-width="1.0" stroke-linejoin="round" stroke-linecap="round"/>
<path d="M559.8,247.3 L550,252" fill="none" stroke="#1a1a1a" stroke-width="1.0" stroke-linejoin="round" stroke-linecap="round"/>
<path d="M539.1,276.8 Q545,273 570.5,270.9 L587.6,266.2" fill="none" stroke="#1a1a1a" stroke-width="1.2" stroke-linejoin="round" stroke-linecap="round"/>
<path d="M539.1,276.8 L539.7,308.7" fill="none" stroke="#1a1a1a" stroke-width="1.2" stroke-linejoin="round" stroke-linecap="round"/>
<path d="M570.5,270.9 L570.5,305.2" fill="none" stroke="#1a1a1a" stroke-width="1.1" stroke-linejoin="round" stroke-linecap="round"/>
<path d="M587.6,266.2 L588.2,298.1" fill="none" stroke="#1a1a1a" stroke-width="1.1" stroke-linejoin="round" stroke-linecap="round"/>
<ellipse cx="546.8" cy="276.4" rx="5" ry="2" fill="none" stroke="#1a1a1a" stroke-width="1.1"/>
<ellipse cx="563.4" cy="295.7" rx="4" ry="5.5" fill="none" stroke="#1a1a1a" stroke-width="1.1"/>
<ellipse cx="576.4" cy="291.6" rx="4" ry="5.5" fill="none" stroke="#1a1a1a" stroke-width="1.1"/>
<ellipse cx="591.1" cy="276.2" rx="1.8" ry="2.5" fill="none" stroke="#1a1a1a" stroke-width="1.0"/>
<ellipse cx="591.1" cy="284.5" rx="1.8" ry="2.5" fill="none" stroke="#1a1a1a" stroke-width="1.0"/>
<path d="M594.1,267.4 Q598.5,269 598,276" fill="none" stroke="#1a1a1a" stroke-width="1.6" stroke-linejoin="round" stroke-linecap="round"/>
<ellipse cx="497.2" cy="273.3" rx="3" ry="4.5" fill="none" stroke="#1a1a1a" stroke-width="1.1"/>
<path d="M494.8,282 Q500,285.5 505.5,282" fill="none" stroke="#1a1a1a" stroke-width="1.0" stroke-linejoin="round" stroke-linecap="round"/>
<path d="M474.5,292.5 Q472,286 476.5,281.5 L481,278.5 L484.5,291.5 Z" fill="#fff" stroke="#1a1a1a" stroke-width="1.2" stroke-linejoin="round" stroke-linecap="round"/>
<ellipse cx="478" cy="286.5" rx="1.8" ry="2.4" fill="none" stroke="#1a1a1a" stroke-width="1.0"/>
<path d="M450,286 Q451,282 456,281.5 L460.5,291 L454,294 Z" fill="#fff" stroke="#1a1a1a" stroke-width="1.2" stroke-linejoin="round" stroke-linecap="round"/>
<ellipse cx="455" cy="288" rx="1.8" ry="1.8" fill="none" stroke="#1a1a1a" stroke-width="1.0"/>
<ellipse cx="411.2" cy="271.7" rx="7.5" ry="10" fill="#fff" stroke="#1a1a1a" stroke-width="1.7"/>
<ellipse cx="412" cy="271.5" rx="4.5" ry="6.5" fill="none" stroke="#1a1a1a" stroke-width="1.2"/>
<ellipse cx="419.1" cy="263.8" rx="4.5" ry="6" fill="#fff" stroke="#1a1a1a" stroke-width="1.2"/>
<ellipse cx="419.6" cy="263.6" rx="2.5" ry="4" fill="none" stroke="#1a1a1a" stroke-width="1.1"/>
<ellipse cx="391.5" cy="255.9" rx="3" ry="4" fill="none" stroke="#1a1a1a" stroke-width="1.1"/>
<path d="M390.9,264.4 L403.3,267.8" fill="none" stroke="#1a1a1a" stroke-width="1.0" stroke-linejoin="round" stroke-linecap="round"/>
<path d="M403.5,256 Q401,262 403.5,268" fill="none" stroke="#1a1a1a" stroke-width="1.0" stroke-linejoin="round" stroke-linecap="round"/>
<ellipse cx="461.5" cy="268.3" rx="8" ry="10.5" fill="#fff" stroke="#1a1a1a" stroke-width="1.9"/>
<ellipse cx="462.5" cy="268.3" rx="5" ry="6.5" fill="none" stroke="#1a1a1a" stroke-width="1.2"/>
<path d="M453.6,254.2 Q452,262 454,270" fill="none" stroke="#1a1a1a" stroke-width="1.0" stroke-linejoin="round" stroke-linecap="round"/>
<ellipse cx="429.9" cy="226.5" rx="3.8" ry="1.5" fill="none" stroke="#1a1a1a" stroke-width="1.0"/>
<ellipse cx="429.9" cy="230.3" rx="3.8" ry="1.5" fill="none" stroke="#1a1a1a" stroke-width="1.0"/>
<ellipse cx="443.4" cy="226.5" rx="3.8" ry="1.5" fill="none" stroke="#1a1a1a" stroke-width="1.0"/>
<ellipse cx="443.4" cy="230.3" rx="3.8" ry="1.5" fill="none" stroke="#1a1a1a" stroke-width="1.0"/>
<ellipse cx="517.3" cy="253.8" rx="3.8" ry="1.5" fill="none" stroke="#1a1a1a" stroke-width="1.0"/>
<ellipse cx="530.3" cy="253.8" rx="3.8" ry="1.5" fill="none" stroke="#1a1a1a" stroke-width="1.0"/>
<ellipse cx="517.9" cy="257.9" rx="3.8" ry="1.5" fill="none" stroke="#1a1a1a" stroke-width="1.0"/>
<ellipse cx="530.9" cy="257.9" rx="3.8" ry="1.5" fill="none" stroke="#1a1a1a" stroke-width="1.0"/>
<ellipse cx="411.8" cy="228.8" rx="1.9" ry="0.95" fill="#1a1a1a"/>
<ellipse cx="440.6" cy="220.3" rx="1.9" ry="0.95" fill="#1a1a1a"/>
<ellipse cx="434.4" cy="236.1" rx="1.9" ry="0.95" fill="#1a1a1a"/>
<ellipse cx="451.3" cy="238.4" rx="1.9" ry="0.95" fill="#1a1a1a"/>
<ellipse cx="462" cy="227.1" rx="1.9" ry="0.95" fill="#1a1a1a"/>
<ellipse cx="468.8" cy="233.3" rx="1.9" ry="0.95" fill="#1a1a1a"/>
<ellipse cx="462" cy="236.7" rx="1.9" ry="0.95" fill="#1a1a1a"/>
<ellipse cx="473.3" cy="236.7" rx="1.9" ry="0.95" fill="#1a1a1a"/>
<ellipse cx="463.2" cy="240.1" rx="1.9" ry="0.95" fill="#1a1a1a"/>
<ellipse cx="473.9" cy="240.1" rx="1.9" ry="0.95" fill="#1a1a1a"/>
<ellipse cx="468.2" cy="244" rx="1.9" ry="0.95" fill="#1a1a1a"/>
<ellipse cx="477.8" cy="246.3" rx="1.9" ry="0.95" fill="#1a1a1a"/>
<ellipse cx="474.7" cy="236.6" rx="1.9" ry="0.95" fill="#1a1a1a"/>
<ellipse cx="484.8" cy="230.1" rx="1.9" ry="0.95" fill="#1a1a1a"/>
<ellipse cx="484.8" cy="238.4" rx="1.9" ry="0.95" fill="#1a1a1a"/>
<ellipse cx="474.7" cy="240.8" rx="1.9" ry="0.95" fill="#1a1a1a"/>
<ellipse cx="495.4" cy="241.4" rx="1.9" ry="0.95" fill="#1a1a1a"/>
<ellipse cx="488.3" cy="244.9" rx="1.9" ry="0.95" fill="#1a1a1a"/>
<ellipse cx="500.1" cy="244.9" rx="1.9" ry="0.95" fill="#1a1a1a"/>
<ellipse cx="488.9" cy="248.5" rx="1.9" ry="0.95" fill="#1a1a1a"/>
<ellipse cx="500.7" cy="248.5" rx="1.9" ry="0.95" fill="#1a1a1a"/>
<ellipse cx="477.7" cy="246.7" rx="1.9" ry="0.95" fill="#1a1a1a"/>
<ellipse cx="510.8" cy="246.7" rx="1.9" ry="0.95" fill="#1a1a1a"/>
<ellipse cx="494.8" cy="252" rx="1.9" ry="0.95" fill="#1a1a1a"/>
<ellipse cx="500.1" cy="256.5" rx="1.9" ry="0.95" fill="#1a1a1a"/>
<ellipse cx="528.5" cy="247.9" rx="1.9" ry="0.95" fill="#1a1a1a"/>
<ellipse cx="522" cy="263.8" rx="1.9" ry="0.95" fill="#1a1a1a"/>
<ellipse cx="536.8" cy="265" rx="1.9" ry="0.95" fill="#1a1a1a"/>
<ellipse cx="549.8" cy="255" rx="1.9" ry="0.95" fill="#1a1a1a"/>
<ellipse cx="553.9" cy="260.3" rx="1.9" ry="0.95" fill="#1a1a1a"/>
<ellipse cx="547.4" cy="263.2" rx="1.9" ry="0.95" fill="#1a1a1a"/>
<ellipse cx="559.2" cy="263.2" rx="1.9" ry="0.95" fill="#1a1a1a"/>
<ellipse cx="548" cy="266.8" rx="1.9" ry="0.95" fill="#1a1a1a"/>
<ellipse cx="559.8" cy="266.8" rx="1.9" ry="0.95" fill="#1a1a1a"/>
<ellipse cx="569.9" cy="265" rx="1.9" ry="0.95" fill="#1a1a1a"/>
<ellipse cx="553.3" cy="270.3" rx="1.9" ry="0.95" fill="#1a1a1a"/>
<ellipse cx="456.5" cy="248.6" rx="7" ry="2.4" fill="#fff" stroke="#1a1a1a" stroke-width="1.1"/>
<path d="M479.5,258 Q486.5,252 493.6,258" fill="none" stroke="#1a1a1a" stroke-width="1.1" stroke-linejoin="round" stroke-linecap="round"/>
<path d="M479.5,258 Q486.5,262 493.6,258" fill="none" stroke="#1a1a1a" stroke-width="1.1" stroke-linejoin="round" stroke-linecap="round"/></g></defs>
<defs><g id="mannuts"><ellipse cx="563.4" cy="296.2" rx="4.6" ry="5.4" fill="#fff" stroke="#1a1a1a" stroke-width="1.5"/>
<path d="M564.9,293.7 Q560.9,293.7 561.4,297.2 Q562.4,299.2 565.4,298.7" fill="none" stroke="#1a1a1a" stroke-width="1.4"/>
<ellipse cx="576.4" cy="292.1" rx="4.6" ry="5.4" fill="#fff" stroke="#1a1a1a" stroke-width="1.5"/>
<path d="M577.9,289.6 Q573.9,289.6 574.4,293.1 Q575.4,295.1 578.4,294.6" fill="none" stroke="#1a1a1a" stroke-width="1.4"/></g></defs>
<defs><g id="valve"><path d="M50,-11.5 L58,-10.5 L62,-9 L80,-9 L80,9 L62,9 L58,10.5 L50,11.5 Z" fill="#fff" stroke="#1a1a1a" stroke-width="0.01" stroke-linejoin="round" stroke-linecap="round" />
<path d="M50,-11.5 L58,-10.5 L62,-9 L78,-9 M50,11.5 L58,10.5 L62,9 L76,9" fill="none" stroke="#1a1a1a" stroke-width="1.15" stroke-linejoin="round" stroke-linecap="round" />
<path d="M60,-10 Q62.5,0 60,10 M63.5,-9.5 Q66,0 63.5,9.5 M66.5,-9 Q69,0 66.5,9" fill="none" stroke="#1a1a1a" stroke-width="1.1" stroke-linejoin="round" stroke-linecap="round" />
<path d="M71,-5.5 L76.5,-5.5 Q78,-2 76.5,2.5 L71,2.5 Q69.5,-1.5 71,-5.5 Z" fill="none" stroke="#1a1a1a" stroke-width="1.2" stroke-linejoin="round" stroke-linecap="round" />
<path d="M76,-10 Q81,-9 82,-6 M79,-10.5 Q83.5,-9 84,-5.5" fill="none" stroke="#1a1a1a" stroke-width="1.8" stroke-linejoin="round" stroke-linecap="round" />
<path d="M80,4 Q83,6 81,10 M83,3 Q86,6 84,10" fill="none" stroke="#1a1a1a" stroke-width="1.8" stroke-linejoin="round" stroke-linecap="round" />
<path d="M14,-12 L50,-13.5 L50,13.5 L14,12 Z" fill="#fff" stroke="#1a1a1a" stroke-width="0.01" stroke-linejoin="round" stroke-linecap="round" />
<path d="M14,-12 L50,-13.5 M14,12 L50,13.5" fill="none" stroke="#1a1a1a" stroke-width="1.2" stroke-linejoin="round" stroke-linecap="round" stroke-dasharray="8,2.5"/>
<path d="M22,-7 L46,-7.5 M24,7 L46,7.5" fill="none" stroke="#1a1a1a" stroke-width="1.1" stroke-linejoin="round" stroke-linecap="round" stroke-dasharray="7,3"/>
<path d="M45,-13.3 Q49,0 45,13.3" fill="none" stroke="#1a1a1a" stroke-width="1.1" stroke-linejoin="round" stroke-linecap="round" />
<path d="M20,-8.5 L22,-5 M21,5 L23,9" fill="none" stroke="#1a1a1a" stroke-width="1.4" stroke-linejoin="round" stroke-linecap="round" />
<path d="M4,-10 L14,-12.5 L17,0 L14,12.5 L4,10 Q0.5,0 4,-10 Z" fill="#fff" stroke="#1a1a1a" stroke-width="1.3" stroke-linejoin="round" stroke-linecap="round" />
<path d="M9,-11 Q12.5,0 9,11 M12,-11.5 Q15.5,0 12,11.5" fill="none" stroke="#1a1a1a" stroke-width="1.2" stroke-linejoin="round" stroke-linecap="round" />
<path d="M5,-8 L7,-5 M5,8 L7,5 M14,-4 L15,0 L14,4" fill="none" stroke="#1a1a1a" stroke-width="1.5" stroke-linejoin="round" stroke-linecap="round" />
<path d="M1,-6.5 Q-3,-6 -3.5,0 Q-3,6 1,6.5 L6,6 Q8.5,0 6,-6 Z" fill="#fff" stroke="#1a1a1a" stroke-width="1.4" stroke-linejoin="round" stroke-linecap="round" />
<ellipse cx="0.5" cy="0" rx="2.3" ry="3.2" fill="none" stroke="#1a1a1a" stroke-width="1.1"/>
<path d="M-2,-4 L-3,-2 M-2,4 L-3,2" fill="none" stroke="#1a1a1a" stroke-width="1.2" stroke-linejoin="round" stroke-linecap="round" /></g></defs>
<line x1="486" y1="174" x2="486" y2="380" stroke="#EBD92E" stroke-width="1.1"/>
<line x1="499.5" y1="151" x2="499.5" y2="385" stroke="#EBD92E" stroke-width="1.1"/>
<line x1="527.5" y1="160.5" x2="527.5" y2="375" stroke="#EBD92E" stroke-width="1.1"/>
<line x1="484.3" y1="323" x2="484.3" y2="368" stroke="#EBD92E" stroke-width="1.1"/>
<line x1="509.5" y1="324.6" x2="509.5" y2="366" stroke="#EBD92E" stroke-width="1.1"/>
<line x1="522" y1="328.5" x2="522" y2="370" stroke="#EBD92E" stroke-width="1.1"/>
<use href="#man"/>
<line x1="560" y1="295.5" x2="594" y2="305" stroke="#EBD92E" stroke-width="1.1"/>
<line x1="573" y1="291.5" x2="607" y2="301" stroke="#EBD92E" stroke-width="1.1"/>
<line x1="455" y1="165.6" x2="455" y2="378" stroke="#EBD92E" stroke-width="1.1"/>
<line x1="367.9" y1="252.7" x2="379" y2="247" stroke="#EBD92E" stroke-width="1.1"/>
<path d="M451.65,124.3 L451.65,164.6 Q456,167.1 460.35,164.6 L460.35,124.3" fill="#fff" stroke="#1a1a1a" stroke-width="1.2" stroke-linejoin="round" stroke-linecap="round" />
<path d="M449.2,115.1 L449.2,123.3 Q456,126.1 462.8,123.3 L462.8,115.1" fill="#fff" stroke="#1a1a1a" stroke-width="1.2" stroke-linejoin="round" stroke-linecap="round" />
<ellipse cx="456" cy="115.1" rx="6.8" ry="1.9" fill="#fff" stroke="#1a1a1a" stroke-width="1.2" />
<ellipse cx="456" cy="115.1" rx="2.2" ry="0.9" fill="none" stroke="#1a1a1a" stroke-width="1.0" />
<path d="M481.84999999999997,132.5 L481.84999999999997,173 Q486.2,175.5 490.55,173 L490.55,132.5" fill="#fff" stroke="#1a1a1a" stroke-width="1.2" stroke-linejoin="round" stroke-linecap="round" />
<path d="M479.4,123.5 L479.4,131.5 Q486.2,134.3 493.0,131.5 L493.0,123.5" fill="#fff" stroke="#1a1a1a" stroke-width="1.2" stroke-linejoin="round" stroke-linecap="round" />
<ellipse cx="486.2" cy="123.5" rx="6.8" ry="1.9" fill="#fff" stroke="#1a1a1a" stroke-width="1.2" />
<ellipse cx="486.2" cy="123.5" rx="2.2" ry="0.9" fill="none" stroke="#1a1a1a" stroke-width="1.0" />
<path d="M495.45,110 L495.45,150 Q499.8,152.5 504.15000000000003,150 L504.15000000000003,110" fill="#fff" stroke="#1a1a1a" stroke-width="1.2" stroke-linejoin="round" stroke-linecap="round" />
<path d="M493.0,101.0 L493.0,109 Q499.8,111.8 506.6,109 L506.6,101.0" fill="#fff" stroke="#1a1a1a" stroke-width="1.2" stroke-linejoin="round" stroke-linecap="round" />
<ellipse cx="499.8" cy="101.0" rx="6.8" ry="1.9" fill="#fff" stroke="#1a1a1a" stroke-width="1.2" />
<ellipse cx="499.8" cy="101.0" rx="2.2" ry="0.9" fill="none" stroke="#1a1a1a" stroke-width="1.0" />
<path d="M523.4499999999999,119.5 L523.4499999999999,159.5 Q527.8,162.0 532.15,159.5 L532.15,119.5" fill="#fff" stroke="#1a1a1a" stroke-width="1.2" stroke-linejoin="round" stroke-linecap="round" />
<path d="M521.0,110.5 L521.0,118.5 Q527.8,121.3 534.5999999999999,118.5 L534.5999999999999,110.5" fill="#fff" stroke="#1a1a1a" stroke-width="1.2" stroke-linejoin="round" stroke-linecap="round" />
<ellipse cx="527.8" cy="110.5" rx="6.8" ry="1.9" fill="#fff" stroke="#1a1a1a" stroke-width="1.2" />
<ellipse cx="527.8" cy="110.5" rx="2.2" ry="0.9" fill="none" stroke="#1a1a1a" stroke-width="1.0" />
<ellipse cx="455.6" cy="200.9" rx="6.8" ry="3.2" fill="#fff" stroke="#1a1a1a" stroke-width="1.3" />
<ellipse cx="455.6" cy="200" rx="6.8" ry="3.0" fill="#fff" stroke="#1a1a1a" stroke-width="1.3" />
<ellipse cx="455.6" cy="199.8" rx="3.8" ry="1.4" fill="none" stroke="#1a1a1a" stroke-width="1.1" />
<line x1="455.6" y1="198.5" x2="455.6" y2="200.5" stroke="#EBD92E" stroke-width="1.1"/>
<ellipse cx="485.8" cy="208.9" rx="6.8" ry="3.2" fill="#fff" stroke="#1a1a1a" stroke-width="1.3" />
<ellipse cx="485.8" cy="208" rx="6.8" ry="3.0" fill="#fff" stroke="#1a1a1a" stroke-width="1.3" />
<ellipse cx="485.8" cy="207.8" rx="3.8" ry="1.4" fill="none" stroke="#1a1a1a" stroke-width="1.1" />
<line x1="485.8" y1="206.5" x2="485.8" y2="208.5" stroke="#EBD92E" stroke-width="1.1"/>
<ellipse cx="499.5" cy="186.20000000000002" rx="6.8" ry="3.2" fill="#fff" stroke="#1a1a1a" stroke-width="1.3" />
<ellipse cx="499.5" cy="185.3" rx="6.8" ry="3.0" fill="#fff" stroke="#1a1a1a" stroke-width="1.3" />
<ellipse cx="499.5" cy="185.10000000000002" rx="3.8" ry="1.4" fill="none" stroke="#1a1a1a" stroke-width="1.1" />
<line x1="499.5" y1="183.8" x2="499.5" y2="185.8" stroke="#EBD92E" stroke-width="1.1"/>
<ellipse cx="527.2" cy="196.1" rx="6.8" ry="3.2" fill="#fff" stroke="#1a1a1a" stroke-width="1.3" />
<ellipse cx="527.2" cy="195.2" rx="6.8" ry="3.0" fill="#fff" stroke="#1a1a1a" stroke-width="1.3" />
<ellipse cx="527.2" cy="195.0" rx="3.8" ry="1.4" fill="none" stroke="#1a1a1a" stroke-width="1.1" />
<line x1="527.2" y1="193.7" x2="527.2" y2="195.7" stroke="#EBD92E" stroke-width="1.1"/>
<ellipse cx="455" cy="332.4" rx="5.6" ry="2.6" fill="#1a1a1a" stroke="#1a1a1a" stroke-width="1.0" />
<ellipse cx="455" cy="332.4" rx="2.2" ry="0.8" fill="#6a5a00" stroke="none" stroke-width="0" />
<ellipse cx="484.3" cy="323" rx="5.6" ry="2.6" fill="#1a1a1a" stroke="#1a1a1a" stroke-width="1.0" />
<ellipse cx="484.3" cy="323" rx="2.2" ry="0.8" fill="#6a5a00" stroke="none" stroke-width="0" />
<ellipse cx="509.5" cy="324.6" rx="5.6" ry="2.6" fill="#1a1a1a" stroke="#1a1a1a" stroke-width="1.0" />
<ellipse cx="509.5" cy="324.6" rx="2.2" ry="0.8" fill="#6a5a00" stroke="none" stroke-width="0" />
<ellipse cx="522" cy="328.5" rx="5.6" ry="2.6" fill="#1a1a1a" stroke="#1a1a1a" stroke-width="1.0" />
<ellipse cx="522" cy="328.5" rx="2.2" ry="0.8" fill="#6a5a00" stroke="none" stroke-width="0" />
<ellipse cx="498" cy="345.9" rx="5.6" ry="2.6" fill="#1a1a1a" stroke="#1a1a1a" stroke-width="1.0" />
<ellipse cx="498" cy="345.9" rx="2.2" ry="0.8" fill="#6a5a00" stroke="none" stroke-width="0" />
<ellipse cx="527" cy="336.7" rx="5.6" ry="2.6" fill="#1a1a1a" stroke="#1a1a1a" stroke-width="1.0" />
<ellipse cx="527" cy="336.7" rx="2.2" ry="0.8" fill="#6a5a00" stroke="none" stroke-width="0" />
<use href="#valve" transform="translate(292.5,292.9) rotate(-26.7)"/>
<path d="M597,302 Q592,304 593.5,310 Q596,313 601,312.5" fill="none" stroke="#1a1a1a" stroke-width="1.0" stroke-linejoin="round" stroke-linecap="round" />
<ellipse cx="601" cy="307" rx="4.3" ry="5.3" fill="#fff" stroke="#1a1a1a" stroke-width="1.3" />
<ellipse cx="601.3" cy="307" rx="2.3" ry="2.9" fill="none" stroke="#1a1a1a" stroke-width="1.2" />
<path d="M610,298 Q605,300 606.5,306 Q609,309 614,308.5" fill="none" stroke="#1a1a1a" stroke-width="1.0" stroke-linejoin="round" stroke-linecap="round" />
<ellipse cx="614" cy="303" rx="4.3" ry="5.3" fill="#fff" stroke="#1a1a1a" stroke-width="1.3" />
<ellipse cx="614.3" cy="303" rx="2.3" ry="2.9" fill="none" stroke="#1a1a1a" stroke-width="1.2" />
<path d="M446.7,484.7 L485.3,501.3 L497.3,501.3 L536.9,484.7 L536.9,517.9 L497.3,529 L485.3,529 L446.7,517.9 Z" fill="#fff" stroke="#1a1a1a" stroke-width="1.3" stroke-linejoin="round" stroke-linecap="round" />
<path d="M485.3,501.3 L485.3,529 M497.3,501.3 L497.3,529" fill="none" stroke="#1a1a1a" stroke-width="1.2" stroke-linejoin="round" stroke-linecap="round" />
<ellipse cx="454" cy="507.7" rx="5" ry="7" fill="none" stroke="#1a1a1a" stroke-width="1.2" />
<ellipse cx="479" cy="511.4" rx="3" ry="4" fill="none" stroke="#1a1a1a" stroke-width="1.1" />
<ellipse cx="509.8" cy="509.6" rx="3" ry="4" fill="none" stroke="#1a1a1a" stroke-width="1.1" />
<ellipse cx="523.6" cy="505" rx="3" ry="4" fill="none" stroke="#1a1a1a" stroke-width="1.1" />
<g transform="translate(491.3,375) scale(1.047,1.04)"><use href="#hbody"/><use href="#hrim"/></g>
<ellipse cx="491.8" cy="376.6" rx="27.6" ry="9.7" fill="none" stroke="#1a1a1a" stroke-width="1.3"/>
<ellipse cx="484.4" cy="370" rx="5" ry="2.1" fill="none" stroke="#1a1a1a" stroke-width="1.2"/>
<ellipse cx="484.4" cy="370.2" rx="3" ry="1.1" fill="none" stroke="#1a1a1a" stroke-width="1.0"/>
<ellipse cx="481.7" cy="379.8" rx="5" ry="2.1" fill="none" stroke="#1a1a1a" stroke-width="1.2"/>
<ellipse cx="481.7" cy="380.0" rx="3" ry="1.1" fill="none" stroke="#1a1a1a" stroke-width="1.0"/>
<ellipse cx="511.1" cy="375.2" rx="5" ry="2.1" fill="none" stroke="#1a1a1a" stroke-width="1.2"/>
<ellipse cx="511.1" cy="375.4" rx="3" ry="1.1" fill="none" stroke="#1a1a1a" stroke-width="1.0"/>
<path d="M489,379.5 Q491,376 497,377 Q499,379 494,380.5" fill="none" stroke="#1a1a1a" stroke-width="1.1" stroke-linejoin="round" stroke-linecap="round" />
<path d="M459,364.5 L473,368.5 M461,362.5 L475,366.5" fill="none" stroke="#1a1a1a" stroke-width="1.1" stroke-linejoin="round" stroke-linecap="round" />
<line x1="455" y1="360" x2="455" y2="373" stroke="#EBD92E" stroke-width="1.1"/>
<line x1="486.2" y1="364" x2="486.2" y2="387" stroke="#EBD92E" stroke-width="1.1"/>
<line x1="499.1" y1="362" x2="499.1" y2="386" stroke="#EBD92E" stroke-width="1.1"/>
<line x1="509.7" y1="362" x2="509.7" y2="365" stroke="#EBD92E" stroke-width="1.1"/>
<line x1="522" y1="362" x2="522" y2="369" stroke="#EBD92E" stroke-width="1.1"/>
<line x1="527.5" y1="362" x2="527.5" y2="376" stroke="#EBD92E" stroke-width="1.1"/>
<use href="#man" transform="translate(249.8,867.3) scale(0.91) translate(-377.3,-189.3)"/>
<use href="#mannuts" transform="translate(249.8,867.3) scale(0.91) translate(-377.3,-189.3)"/>
<defs><clipPath id="vclip"><path d="M150,850 L249.5,850 L249.5,908 L252.6,914 L252.6,1000 L150,1000 Z"/></clipPath></defs>
<g clip-path="url(#vclip)"><use href="#valve" transform="translate(219.5,937.5) rotate(-27) scale(0.91)"/></g>
<path d="M250,908 Q252,903.5 257,904 Q262,905 265.5,911 L259,913.5 Q256,908 251.5,910.5 Z" fill="#fff" stroke="#1a1a1a" stroke-width="1.3" stroke-linejoin="round" stroke-linecap="round" />
<path d="M247.5,913 L258,908.5" fill="none" stroke="#1a1a1a" stroke-width="1.2" stroke-linejoin="round" stroke-linecap="round" />
<line x1="346.2" y1="1003" x2="346.2" y2="1025" stroke="#EBD92E" stroke-width="1.1"/>
<line x1="354.6" y1="995" x2="354.6" y2="1022" stroke="#EBD92E" stroke-width="1.1"/>
<line x1="370.6" y1="1000" x2="370.6" y2="1023" stroke="#EBD92E" stroke-width="1.1"/>
<path d="M343,996 L343,1002.5 Q346.2,1004.5 349.5,1002.5 L349.5,996" fill="#fff" stroke="#1a1a1a" stroke-width="1.2" stroke-linejoin="round" stroke-linecap="round" />
<path d="M367.5,995 L367.5,999 Q370.5,1001 373.5,999 L373.5,995" fill="#fff" stroke="#1a1a1a" stroke-width="1.2" stroke-linejoin="round" stroke-linecap="round" />
<path d="M329.5,986 L329.5,988.5 A25,8.5 0 0 0 379.5,988.5 L379.5,986" fill="#fff" stroke="#1a1a1a" stroke-width="1.3" stroke-linejoin="round" stroke-linecap="round" />
<ellipse cx="354.5" cy="986" rx="25" ry="8.5" fill="#fff" stroke="#1a1a1a" stroke-width="1.3" />
<ellipse cx="346.5" cy="981.5" rx="5.5" ry="2.1" fill="none" stroke="#1a1a1a" stroke-width="1.3" />
<ellipse cx="346.5" cy="981.5" rx="2.8" ry="1.1" fill="none" stroke="#1a1a1a" stroke-width="1.1" />
<path d="M346.5,980.0 L346.5,983.0" fill="none" stroke="#1a1a1a" stroke-width="1.0" stroke-linejoin="round" stroke-linecap="round" />
<ellipse cx="346.5" cy="990.5" rx="5.5" ry="2.1" fill="none" stroke="#1a1a1a" stroke-width="1.3" />
<ellipse cx="346.5" cy="990.5" rx="2.8" ry="1.1" fill="none" stroke="#1a1a1a" stroke-width="1.1" />
<path d="M346.5,989.0 L346.5,992.0" fill="none" stroke="#1a1a1a" stroke-width="1.0" stroke-linejoin="round" stroke-linecap="round" />
<ellipse cx="371" cy="986" rx="5.5" ry="2.1" fill="none" stroke="#1a1a1a" stroke-width="1.3" />
<ellipse cx="371" cy="986" rx="2.8" ry="1.1" fill="none" stroke="#1a1a1a" stroke-width="1.1" />
<path d="M371,984.5 L371,987.5" fill="none" stroke="#1a1a1a" stroke-width="1.0" stroke-linejoin="round" stroke-linecap="round" />
<g transform="translate(354.5,1020.3) scale(0.958,1.0)"><use href="#hbody"/><use href="#hrim"/><use href="#htopA"/></g>
<path d="M347,1026 L366,1020" fill="none" stroke="#1a1a1a" stroke-width="2.0" stroke-linejoin="round" stroke-linecap="round" />
<line x1="346.2" y1="1014" x2="346.2" y2="1026" stroke="#EBD92E" stroke-width="1.1"/>
<line x1="354.6" y1="1013" x2="354.6" y2="1022" stroke="#EBD92E" stroke-width="1.1"/>
<line x1="370.6" y1="1013" x2="370.6" y2="1023" stroke="#EBD92E" stroke-width="1.1"/>
<line x1="347" y1="1137" x2="347" y2="1151" stroke="#EBD92E" stroke-width="1.1"/>
<line x1="358" y1="1137" x2="358" y2="1148" stroke="#EBD92E" stroke-width="1.1"/>
<path d="M312.4,1151 L333,1145 L356,1140 L360,1140 L395,1151 L395,1180 L360,1192 L349,1192 L313,1180 Z" fill="#fff" stroke="#1a1a1a" stroke-width="1.3" stroke-linejoin="round" stroke-linecap="round" />
<path d="M312.4,1151 L349,1166 L360,1166 L395,1151" fill="none" stroke="#1a1a1a" stroke-width="1.3" stroke-linejoin="round" stroke-linecap="round" />
<path d="M349,1166 L349,1192 M360,1166 L360,1192" fill="none" stroke="#1a1a1a" stroke-width="1.2" stroke-linejoin="round" stroke-linecap="round" />
<ellipse cx="320" cy="1173" rx="5" ry="7" fill="none" stroke="#1a1a1a" stroke-width="1.2" />
<ellipse cx="343" cy="1175.6" rx="3" ry="4" fill="none" stroke="#1a1a1a" stroke-width="1.1" />
<ellipse cx="356" cy="1148" rx="3.6" ry="1.4" fill="none" stroke="#1a1a1a" stroke-width="1.0" />
<ellipse cx="338" cy="1153" rx="3.6" ry="1.4" fill="none" stroke="#1a1a1a" stroke-width="1.0" />
<ellipse cx="346" cy="1151" rx="3.6" ry="1.4" fill="none" stroke="#1a1a1a" stroke-width="1.0" />
<ellipse cx="356" cy="1154" rx="3.6" ry="1.4" fill="none" stroke="#1a1a1a" stroke-width="1.0" />
<ellipse cx="367" cy="1151" rx="3.6" ry="1.4" fill="none" stroke="#1a1a1a" stroke-width="1.0" />
<ellipse cx="346" cy="1158" rx="3.6" ry="1.4" fill="none" stroke="#1a1a1a" stroke-width="1.0" />
<ellipse cx="360" cy="1159" rx="2" ry="0.9" fill="#1a1a1a" stroke="#1a1a1a" stroke-width="0.8" />
<ellipse cx="370" cy="1155" rx="2" ry="0.9" fill="#1a1a1a" stroke="#1a1a1a" stroke-width="0.8" />
<path d="M333,1146 Q336,1149 339,1147" fill="none" stroke="#1a1a1a" stroke-width="1.0" stroke-linejoin="round" stroke-linecap="round" />
<path d="M955.6,976 L955.6,989 A42.9,14 0 0 0 1041.4,989 L1041.4,976 Z" fill="#fff" stroke="#1a1a1a" stroke-width="1.3" stroke-linejoin="round" stroke-linecap="round" />
<ellipse cx="998.5" cy="976" rx="42.9" ry="13" fill="#fff" stroke="#1a1a1a" stroke-width="1.3" />
<ellipse cx="965.9" cy="970.8" rx="4" ry="1.6" fill="none" stroke="#1a1a1a" stroke-width="1.1" />
<ellipse cx="965.9" cy="976.4" rx="3.5" ry="1.5" fill="none" stroke="#1a1a1a" stroke-width="1.1" />
<ellipse cx="993.8" cy="984.8" rx="3.5" ry="1.5" fill="none" stroke="#1a1a1a" stroke-width="1.1" />
<ellipse cx="1005" cy="984.8" rx="5.5" ry="2" fill="none" stroke="#1a1a1a" stroke-width="1.1" />
<ellipse cx="1031.1" cy="975.5" rx="5" ry="2" fill="none" stroke="#1a1a1a" stroke-width="1.1" />
<ellipse cx="1028.3" cy="969" rx="4" ry="1.6" fill="none" stroke="#1a1a1a" stroke-width="1.1" />
<line x1="966" y1="972" x2="966" y2="976" stroke="#EBD92E" stroke-width="1.1"/>
<line x1="994" y1="978" x2="994" y2="984" stroke="#EBD92E" stroke-width="1.1"/>
<line x1="1031" y1="972" x2="1031" y2="975" stroke="#EBD92E" stroke-width="1.1"/>
<g transform="translate(858.5,938) rotate(-25) scale(1.08)"><path d="M22,-11 L48,-11 L48,11 L22,11 Z" fill="#fff" stroke="#1a1a1a" stroke-width="1.2"/><path d="M22,-4 L48,-4 M22,4 L48,4" fill="none" stroke="#1a1a1a" stroke-width="1.0"/><path d="M48,-11 Q52,-6 52,0 Q52,6 48,11 M44,-12 L52,-12 L52,12 L44,12" fill="#fff" stroke="#1a1a1a" stroke-width="1.1"/><path d="M8,-9 L22,-11 L23,0 L22,11 L8,9 Q5,0 8,-9 Z" fill="#fff" stroke="#1a1a1a" stroke-width="1.3"/><path d="M12,-10 Q15,0 12,10 M17,-10.5 Q20,0 17,10.5" fill="none" stroke="#1a1a1a" stroke-width="1.0"/><path d="M1,-5 Q-1.5,0 1,5 L7,5 Q8,0 7,-5 Z" fill="#fff" stroke="#1a1a1a" stroke-width="1.3"/><ellipse cx="2" cy="0" rx="1.6" ry="2.2" fill="none" stroke="#1a1a1a" stroke-width="1.0"/></g>
<use href="#man" transform="translate(894.3,867.7) scale(0.915,0.935) translate(-377.3,-189.3)"/>
<use href="#mannuts" transform="translate(894.3,867.7) scale(0.915,0.935) translate(-377.3,-189.3)"/>
<path d="M990,965 L990,975.5 Q994.2,977.5 998.5,975.5 L998.5,965" fill="#fff" stroke="#1a1a1a" stroke-width="1.2" stroke-linejoin="round" stroke-linecap="round" />
<path d="M962,960 Q961,955 965,953 L969,958 L969.5,966 L965,967 Z" fill="#fff" stroke="#1a1a1a" stroke-width="1.2" stroke-linejoin="round" stroke-linecap="round" />
</svg></body></html>
